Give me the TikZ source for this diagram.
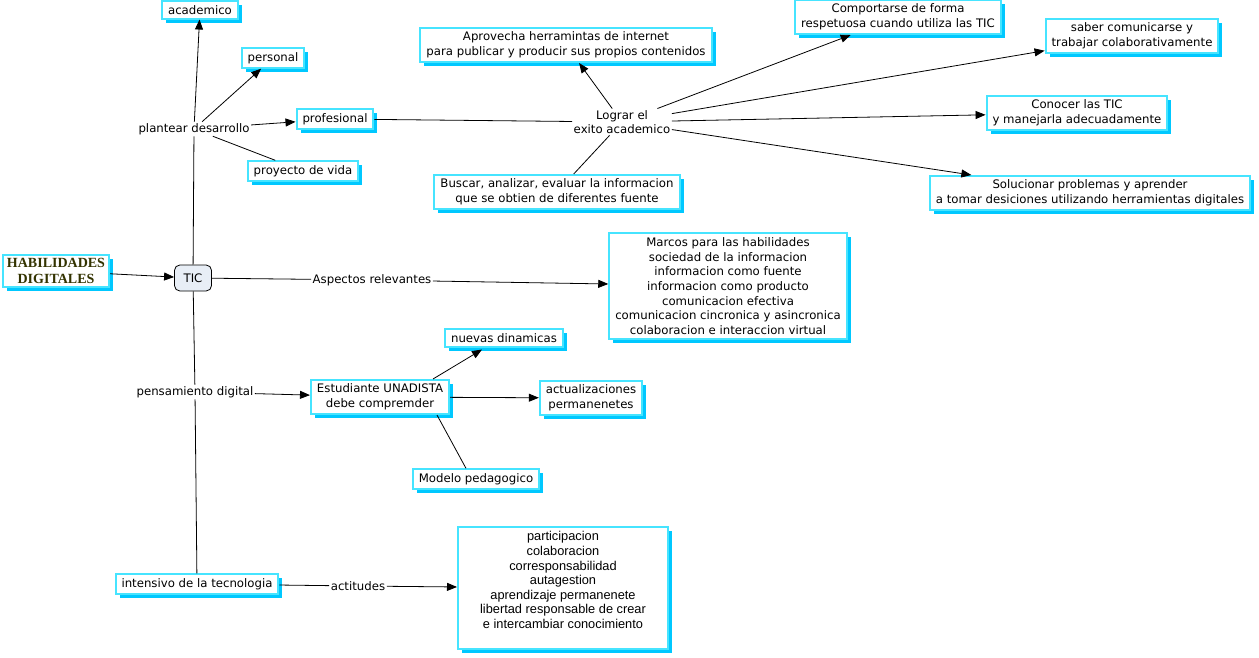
\documentclass[tikz,border=0pt]{standalone}
\usepackage{fontspec}
\setmainfont{DejaVu Sans}
\newfontfamily\habfont{Liberation Serif}
\newfontfamily\arialfont{Liberation Sans}
\usetikzlibrary{arrows.meta,shadows,calc}
\definecolor{bordc}{RGB}{70,228,255}
\definecolor{shadc}{RGB}{0,200,255}
\definecolor{ticfill}{RGB}{232,238,246}
\definecolor{habcol}{RGB}{51,51,0}
\begin{document}
\begin{tikzpicture}[x=0.75pt,y=-0.75pt,
  font=\fontsize{8.8pt}{11pt}\selectfont,
  box/.style={draw=bordc, line width=1.5pt, fill=white, align=center,
    inner xsep=4.5pt, inner ysep=3pt,
    drop shadow={shadow xshift=3pt, shadow yshift=-3pt, fill=shadc, opacity=1}},
  lbl/.style={inner sep=1pt, align=center},
  arr/.style={-{Triangle[length=7.5pt,width=6pt]}, line width=0.6pt},
  ln/.style={line width=0.6pt}]
\useasboundingbox (0,0) rectangle (1259,657);

% concepts
\node[box, font=\habfont\bfseries\fontsize{10.5pt}{11.5pt}\selectfont, text=habcol, inner xsep=3pt] (hab) at (56,271) {HABILIDADES\\DIGITALES};
\node[draw=black, fill=ticfill, rounded corners=4pt, line width=0.6pt, minimum width=27.75pt, minimum height=19.5pt] (tic) at (193,278) {TIC};
\node[box] (acad) at (200,10) {academico};
\node[box] (pers) at (273,58) {personal};
\node[box] (prof) at (335,119) {profesional};
\node[box] (pvida) at (303,171) {proyecto de vida};
\node[box] (apro) at (566,45) {Aprovecha herramintas de internet\\para publicar y producir sus propios contenidos};
\node[box] (busc) at (557,192) {Buscar, analizar, evaluar la informacion\\que se obtien de diferentes fuente};
\node[box] (comp) at (898,17) {Comportarse de forma\\respetuosa cuando utiliza las TIC};
\node[box] (saber) at (1132,36) {saber comunicarse y\\trabajar colaborativamente};
\node[box] (cono) at (1077,113) {Conocer las TIC\\y manejarla adecuadamente};
\node[box] (solu) at (1090,193) {Solucionar problemas y aprender\\a tomar desiciones utilizando herramientas digitales};
\node[box] (marc) at (728,286) {Marcos para las habilidades\\sociedad de la informacion\\informacion como fuente\\informacion como producto\\comunicacion efectiva\\comunicacion cincronica y asincronica\\colaboracion e interaccion virtual};
\node[box] (est) at (380,397) {Estudiante UNADISTA\\debe compremder};
\node[box] (nd) at (504,338) {nuevas dinamicas};
\node[box] (act) at (591,398) {actualizaciones\\permanenetes};
\node[box] (mod) at (476,479) {Modelo pedagogico};
\node[box] (int) at (197,584) {intensivo de la tecnologia};
\node[box, minimum width=157.5pt, minimum height=92pt] (part) at (563,588) {};
\node[align=center, inner sep=0pt, font=\arialfont\fontsize{9.6pt}{10.9pt}\selectfont] (partt) at (563,580) {participacion\\colaboracion\\corresponsabilidad\\autagestion\\aprendizaje permanenete\\libertad responsable de crear\\e intercambiar conocimiento};

% linking phrases
\node[lbl] (pd) at (194,129) {plantear desarrollo};
\node[lbl] (log) at (622,122) {Lograr el\\exito academico};
\node[lbl] (asp) at (372,280) {Aspectos relevantes};
\node[lbl] (pdig) at (195,392) {pensamiento digital};
\node[lbl] (acti) at (358,586) {actitudes};

% connectors
\draw[arr] (hab) -- (tic);
\draw[ln] (tic) -- (pd);
\draw[arr] (pd) -- (acad);
\draw[arr] (pd) -- (pers);
\draw[arr] (pd) -- (prof);
\draw[ln] (pd) -- (pvida);
\draw[ln] (prof) -- (log);
\draw[arr] (log) -- (apro);
\draw[ln] (busc) -- (log);
\draw[arr] (log) -- (comp);
\draw[arr] (log) -- (saber);
\draw[arr] (log) -- (cono);
\draw[arr] (log) -- (solu);
\draw[ln] (tic) -- (asp);
\draw[arr] (asp) -- (marc);
\draw[ln] (tic) -- (pdig);
\draw[ln] (pdig) -- (int);
\draw[arr] (pdig) -- (est);
\draw[arr] ($(est.north)+(53,0)$) -- ($(nd.south)+(-22,2)$);
\draw[arr] (est) -- (act);
\draw[ln] ($(est.south)+(57,0)$) -- ($(mod.north)+(-10,0)$);
\draw[ln] (int) -- (acti);
\draw[arr] (acti) -- (part);
\end{tikzpicture}
\end{document}
